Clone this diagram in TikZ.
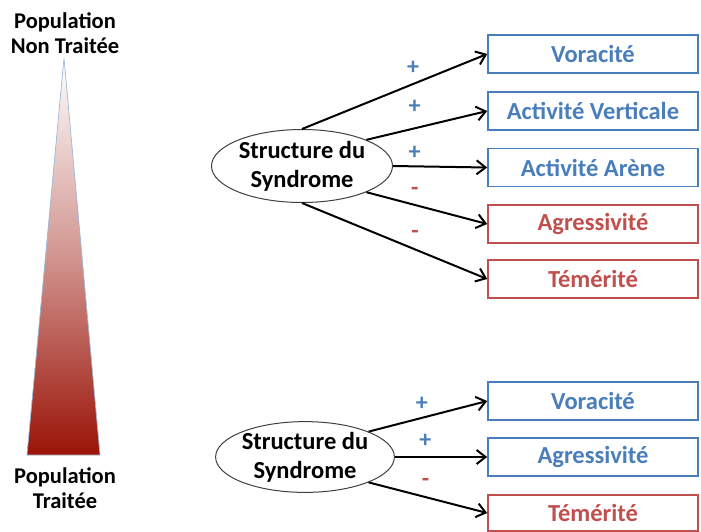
\documentclass[tikz,border=0pt]{standalone}
\usepackage{fontspec}
\setmainfont{Carlito}
\usetikzlibrary{shapes.geometric, arrows.meta, positioning}
\definecolor{traitblue}{HTML}{4A7EBB}
\definecolor{traitred}{HTML}{C0504D}
\definecolor{popred}{HTML}{9A1307}

\begin{document}
\begin{tikzpicture}[x=1pt, y=-1pt,
    syndrome/.style = {ellipse, draw=black!75, line width=1pt, fill=white, align=center, inner sep=0pt, font=\bfseries\fontsize{24.5}{29}\selectfont},
    trait/.style = {rectangle, line width=1.6pt, fill=white, minimum width=210pt, minimum height=38pt, inner sep=0pt, font=\bfseries\fontsize{24.5}{28}\selectfont},
    plus/.style = {trait, draw=traitblue, text=traitblue},
    minus/.style = {trait, draw=traitred, text=traitred},
    poplabel/.style = {align=center, font=\bfseries\fontsize{22.5}{25}\selectfont},
    sign/.style = {font=\bfseries\fontsize{24}{24}\selectfont, inner sep=0pt},
    arrow/.style = {draw=black, line width=2pt, -{Straight Barb[length=9pt, width=14pt, line width=2pt]}}
]
\useasboundingbox (0,0) rectangle (701,531);

% Population gradient
\shade[top color=white, bottom color=popred, middle color=popred!45!white] (64,58) -- (100,455) -- (27,455) -- cycle;
\draw[traitblue!55, line width=0.7pt] (64,58) -- (100,455) -- (27,455) -- cycle;
\node (pop_top) [poplabel, at={(65,33)}] {Population\\Non Traitée};
\node (pop_bottom) [poplabel, at={(65,488)}] {Population\\Traitée};

% Upper syndrome
\node (syn_top) [syndrome, minimum width=181pt, minimum height=73pt, at={(302,166)}] {Structure du\\Syndrome};
\node (vor_top) [plus, at={(593,54)}] {Voracité};
\node (actv_top) [plus, at={(593,111)}] {Activité Verticale};
\node (acta_top) [plus, at={(593,167.5)}] {Activité Arène};
\node (agr_top) [minus, at={(593,224)}] {Agressivité};
\node (tem_top) [minus, at={(593,279)}] {Témérité};

\draw [arrow] (syn_top.north) -- node[sign, text=traitblue, pos=0.6, yshift=16pt] {+} (vor_top.west);
\draw [arrow] (syn_top.north east) -- node[sign, text=traitblue, pos=0.4, yshift=21pt] {+} (actv_top.west);
\draw [arrow] (syn_top.east) -- node[sign, text=traitblue, pos=0.23, yshift=13pt] {+} (acta_top.west);
\draw [arrow] (syn_top.south east) -- node[sign, text=traitred, pos=0.4, yshift=13pt] {-} (agr_top.west);
\draw [arrow] (syn_top.south) -- node[sign, text=traitred, pos=0.61, yshift=15pt] {-} (tem_top.west);

% Lower syndrome
\node (syn_bottom) [syndrome, minimum width=164pt, minimum height=70pt, at={(305,457)}] {Structure du\\Syndrome};
\node (vor_bottom) [plus, at={(593,401)}] {Voracité};
\node (agr_bottom) [plus, at={(593,457)}] {Agressivité};
\node (tem_bottom) [minus, minimum height=36pt, at={(593,513)}] {Témérité};

\draw [arrow] (syn_bottom.north east) -- node[sign, text=traitblue, pos=0.45, yshift=14pt] {+} (vor_bottom.west);
\draw [arrow] (syn_bottom.east) -- node[sign, text=traitblue, pos=0.33, yshift=16pt] {+} (agr_bottom.west);
\draw [arrow] (syn_bottom.south east) -- node[sign, text=traitred, pos=0.48, yshift=15pt] {-} (tem_bottom.west);

\end{tikzpicture}
\end{document}
